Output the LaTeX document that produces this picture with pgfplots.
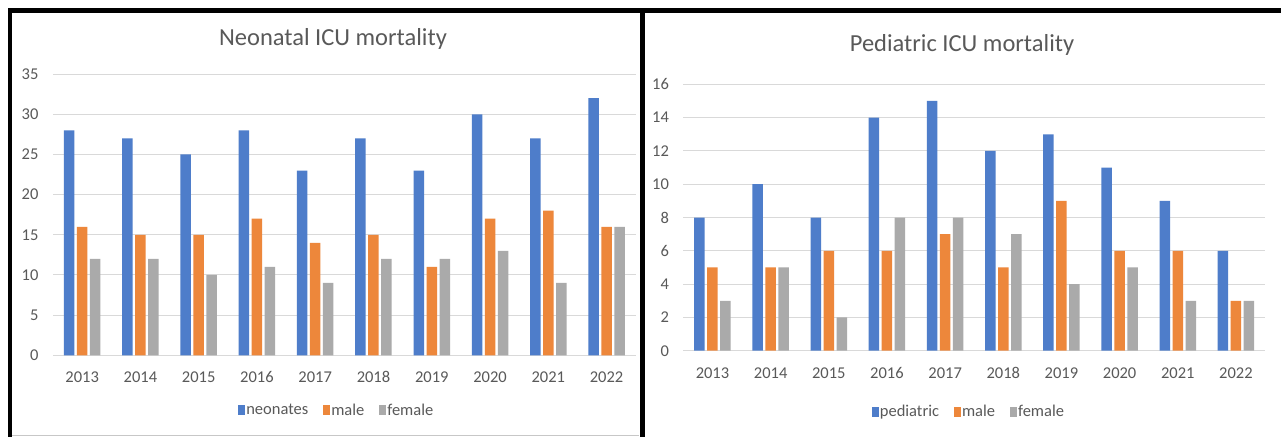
\documentclass[border=0pt]{standalone}
\usepackage{pgfplots}
\pgfplotsset{compat=1.18}
\usepackage{fontspec}
\setmainfont{Carlito}
\definecolor{cblue}{HTML}{4E7DCA}
\definecolor{corange}{HTML}{ED873B}
\definecolor{cgray}{HTML}{AAAAAA}
\definecolor{ctext}{HTML}{595959}
\definecolor{cgrid}{HTML}{D9D9D9}
\pgfplotsset{
  mystyle/.style={
    scale only axis,
    ybar=2.5pt,
    bar width=10.5pt,
    ymin=0,
    xmin=-0.5, xmax=9.5,
    xtick={0,...,9},
    xticklabels={2013,2014,2015,2016,2017,2018,2019,2020,2021,2022},
    axis line style={draw=none},
    major tick length=0pt,
    ymajorgrids,
    grid style={cgrid, line width=1pt},
    tick label style={font=\fontsize{16.5}{19}\selectfont, text=ctext},
    /pgf/number format/assume math mode=true,
    yticklabel style={anchor=east, xshift=-11pt},
    xticklabel style={anchor=center, yshift=-22pt},
    legend columns=3,
    legend style={draw=none, fill=none, font=\fontsize{16.5}{19}\selectfont, text=ctext,
      /tikz/every even column/.append style={column sep=13pt},
      /tikz/every odd column/.append style={column sep=-1pt}},
    legend image code/.code={\fill[##1] (0pt,-5pt) rectangle (7pt,5pt);},
    every axis plot/.append style={draw=none},
    title style={font=\fontsize{24.5}{29}\selectfont, text=ctext, anchor=center},
  }
}
\begin{document}
\begin{tikzpicture}
\fill[white] (0pt,0pt) rectangle (1281pt,437pt);
\path[use as bounding box] (0pt,0pt) rectangle (1281pt,437pt);
% left chart
\begin{axis}[mystyle,
  at={(53pt,81.7pt)}, anchor=south west,
  width=582.7pt, height=281.2pt,
  ymax=35, ytick={0,5,...,35},
  title={Neonatal ICU mortality},
  title style={at={(0.4805,1.103)}},
  legend style={at={(0.487,-0.196)}, anchor=center},
]
\addplot[fill=cblue] coordinates {(0,28) (1,27) (2,25) (3,28) (4,23) (5,27) (6,23) (7,30) (8,27) (9,32)};
\addplot[fill=corange] coordinates {(0,16) (1,15) (2,15) (3,17) (4,14) (5,15) (6,11) (7,17) (8,18) (9,16)};
\addplot[fill=cgray] coordinates {(0,12) (1,12) (2,10) (3,11) (4,9) (5,12) (6,12) (7,13) (8,9) (9,16)};
\legend{neonates, male, female}
\end{axis}
% right chart
\begin{axis}[mystyle,
  at={(683.4pt,86.3pt)}, anchor=south west,
  width=581.6pt, height=266.4pt,
  ymax=16, ytick={0,2,...,16},
  title={Pediatric ICU mortality},
  title style={at={(0.479,1.124)}},
  legend style={at={(0.491,-0.229)}, anchor=center},
]
\addplot[fill=cblue] coordinates {(0,8) (1,10) (2,8) (3,14) (4,15) (5,12) (6,13) (7,11) (8,9) (9,6)};
\addplot[fill=corange] coordinates {(0,5) (1,5) (2,6) (3,6) (4,7) (5,5) (6,9) (7,6) (8,6) (9,3)};
\addplot[fill=cgray] coordinates {(0,3) (1,5) (2,2) (3,8) (4,8) (5,7) (6,4) (7,5) (8,3) (9,3)};
\legend{pediatric, male, female}
\end{axis}
% panel borders
\draw[cgrid!80!gray, line width=1pt] (12pt,2pt) -- (639pt,2pt);
\fill[black] (8pt,424pt) rectangle (1281pt,429pt);
\fill[black] (8pt,0pt) rectangle (12pt,429pt);
\fill[black] (639.5pt,0pt) rectangle (644.5pt,429pt);
\end{tikzpicture}
\end{document}
